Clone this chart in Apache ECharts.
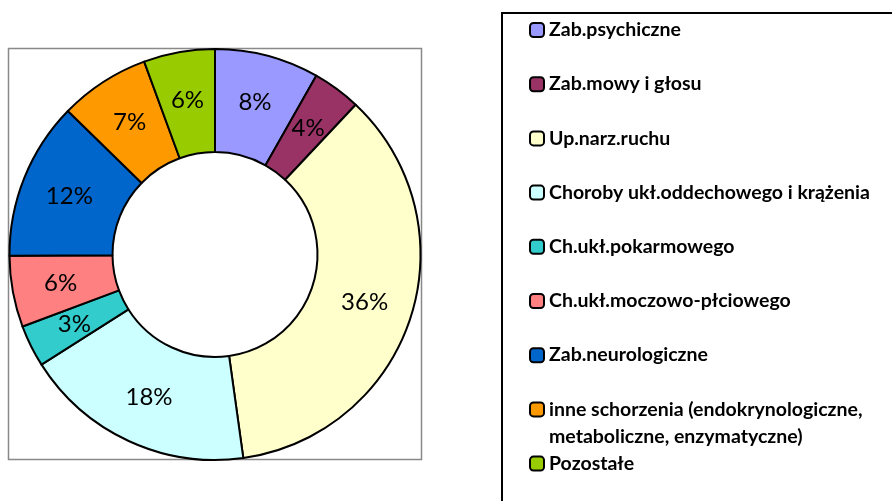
<!DOCTYPE html>
<html>
<head>
<meta charset="utf-8">
<script src="https://cdn.jsdelivr.net/npm/echarts@6/dist/echarts.min.js"></script>
<style>
  html, body { margin: 0; padding: 0; background: #fff; }
  #chart { width: 892px; height: 501px; }
</style>
</head>
<body>
<div id="chart"></div>
<script>
// categories, clockwise from 12 o'clock
const categories = [
  "Zab.psychiczne",
  "Zab.mowy i głosu",
  "Up.narz.ruchu",
  "Choroby ukł.oddechowego i krążenia",
  "Ch.ukł.pokarmowego",
  "Ch.ukł.moczowo-płciowego",
  "Zab.neurologiczne",
  "inne schorzenia (endokrynologiczne,\nmetaboliczne, enzymatyczne)",
  "Pozostałe"
];
const shares = [8.2, 3.8, 35.8, 18.2, 3.3, 5.6, 12.4, 7.1, 5.6];
const colors = ["#9999FF", "#993366", "#FFFFCC", "#CCFFFF", "#33CCCC", "#FF8080", "#0066CC", "#FF9900", "#99CC00"];

const chart = echarts.init(document.getElementById("chart"));
const font = "Lato, 'Open Sans', sans-serif";

const legendText = { fontFamily: font, fontWeight: "bold", fontSize: 19.5, color: "#000", lineHeight: 27 };

const option = {
  animation: false,
  color: colors,
  graphic: [
    // frame round the pie
    {
      type: "rect",
      shape: { x: 8.5, y: 48.5, width: 413, height: 411 },
      style: { fill: "none", stroke: "#898989", lineWidth: 1.5 },
      z: -1
    },
    // legend box
    {
      type: "rect",
      shape: { x: 502, y: 13, width: 420, height: 520 },
      style: { fill: "none", stroke: "#000", lineWidth: 2 },
      z: -1
    }
  ],
  legend: {
    orient: "vertical",
    left: 529,
    top: -10.5,
    height: 1000,
    padding: 0,
    itemWidth: 14,
    itemHeight: 14,
    itemGap: -26.8,
    selectedMode: false,
    data: categories,
    formatter(name) {
      const lines = name.split("\n");
      return "{s| }\n{t|" + lines[0] + "}\n{s|" + (lines[1] || " ") + "}";
    },
    textStyle: {
      ...legendText,
      rich: { s: legendText, t: legendText }
    }
  },
  series: [
    {
      type: "pie",
      center: [215, 254.5],
      radius: [102.5, 205.5],
      startAngle: 90,
      clockwise: true,
      avoidLabelOverlap: false,
      silent: true,
      itemStyle: { borderColor: "#000", borderWidth: 2 },
      label: {
        show: true,
        position: "inside",
        fontFamily: font,
        fontSize: 24,
        color: "#000",
        formatter: p => Math.round(p.percent) + "%"
      },
      labelLine: { show: false },
      emphasis: { disabled: true },
      data: categories.map((name, i) => ({ name, value: shares[i] }))
    }
  ]
};
chart.setOption(option);
</script>
</body>
</html>
